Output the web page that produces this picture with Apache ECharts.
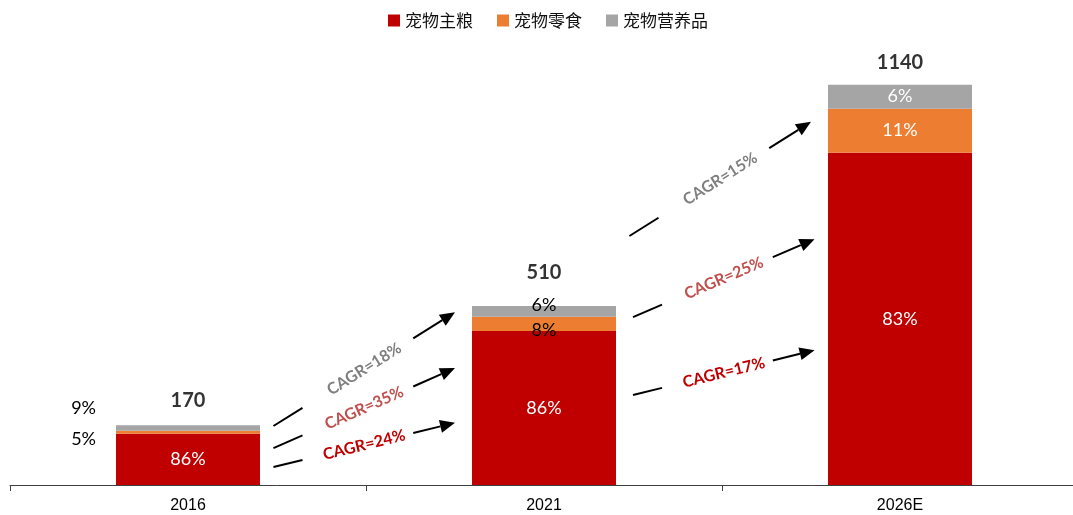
<!DOCTYPE html>
<html>
<head>
<meta charset="utf-8">
<script src="https://cdn.jsdelivr.net/npm/echarts@6/dist/echarts.min.js"></script>
<style>
  html, body { margin: 0; padding: 0; background: #fff; overflow: hidden; }
  #chart { width: 1085px; height: 515px; }
</style>
</head>
<body>
<div id="chart"></div>
<script>
// Pet food market size by segment
const categories = ['2016', '2021', '2026E'];
const totals = [170, 510, 1140];
const staplePct = [86, 86, 83];      // 宠物主粮
const snackPct = [5, 8, 11];         // 宠物零食
const supplementPct = [9, 6, 6];     // 宠物营养品

// Growth arrows between bars: [x, y] in (position, value) units
const cagrLabels = ['CAGR=18%', 'CAGR=35%', 'CAGR=24%', 'CAGR=15%', 'CAGR=25%', 'CAGR=17%'];
const cagrColors = ['#7F7F7F', '#C0504D', '#C00000', '#7F7F7F', '#C0504D', '#C00000'];
const arrowStart = [[0.74, 168], [0.74, 105], [0.74, 51], [1.74, 709], [1.75, 478], [1.75, 256]];
const arrowEnd = [[1.25, 492], [1.25, 333], [1.25, 177], [2.25, 1034], [2.26, 700], [2.26, 384]];

const segValue = (pct) => pct.map((p, i) => +(totals[i] * p / 100).toFixed(1));
const stapleVals = segValue(staplePct);
const snackVals = segValue(snackPct);
const supplementVals = segValue(supplementPct);

const pctFont = { fontFamily: 'Lato', fontSize: 18 };

function pctItems(values, pct, labelFor) {
  return values.map((v, i) => {
    const item = { value: v };
    const lab = labelFor(i);
    if (lab) item.label = Object.assign({ show: true, formatter: pct[i] + '%' }, pctFont, lab);
    return item;
  });
}

const chart = echarts.init(document.getElementById('chart'));
chart.setOption({
  animation: false,
  legend: {
    top: 7,
    left: 383,
    icon: 'rect',
    itemWidth: 12,
    itemHeight: 12,
    itemGap: 24,
    textStyle: { fontFamily: 'Noto Sans CJK SC', fontSize: 17, color: '#111' },
    data: ['宠物主粮', '宠物零食', '宠物营养品']
  },
  grid: { left: 10, top: 46, width: 1068, height: 439, containLabel: false },
  xAxis: [
    {
      type: 'category',
      data: categories,
      axisLine: { lineStyle: { color: '#404040', width: 1 } },
      axisTick: { show: true, length: 6, lineStyle: { color: '#404040' } },
      axisLabel: { fontFamily: 'Liberation Sans', fontSize: 16, color: '#000', margin: 13 }
    },
    { type: 'value', min: 0, max: 3, show: false }
  ],
  yAxis: { type: 'value', min: 0, max: 1250, show: false },
  series: [
    {
      name: '宠物主粮', type: 'bar', stack: 'total', barWidth: 144,
      itemStyle: { color: '#C00000' },
      data: pctItems(stapleVals, staplePct, () => ({ position: 'inside', color: '#fff' }))
    },
    {
      name: '宠物零食', type: 'bar', stack: 'total', barWidth: 144,
      itemStyle: { color: '#ED7D31' },
      data: pctItems(snackVals, snackPct, (i) => {
        if (i === 0) return { position: 'left', distance: 20, offset: [0, 7], color: '#000' };
        if (i === 1) return { position: 'inside', offset: [0, 6], color: '#000' };
        return { position: 'inside', color: '#fff' };
      })
    },
    {
      name: '宠物营养品', type: 'bar', stack: 'total', barWidth: 144,
      itemStyle: { color: '#A5A5A5' },
      data: pctItems(supplementVals, supplementPct, (i) => {
        if (i === 0) return { position: 'left', distance: 20, offset: [0, -20], color: '#000' };
        if (i === 1) return { position: 'inside', offset: [0, -6], color: '#000' };
        return { position: 'inside', color: '#fff' };
      })
    },
    {
      // totals above each bar
      type: 'scatter',
      symbolSize: 0,
      silent: true,
      data: totals.map((t, i) => ({
        value: [categories[i], t],
        label: {
          show: true, position: 'top', distance: i === 0 ? 15 : (i === 1 ? 23 : 12),
          formatter: String(t), fontFamily: 'Lato', fontWeight: 'bold', fontSize: 20, color: '#000'
        }
      }))
    },
    {
      // CAGR arrows
      type: 'custom',
      xAxisIndex: 1,
      yAxisIndex: 0,
      silent: true,
      encode: { x: [0, 2], y: [1, 3] },
      data: arrowStart.map((s, i) => [s[0], s[1], arrowEnd[i][0], arrowEnd[i][1]]),
      renderItem: function (params, api) {
        const i = params.dataIndex;
        const p0 = api.coord([api.value(0), api.value(1)]);
        const p1 = api.coord([api.value(2), api.value(3)]);
        const dx = p1[0] - p0[0], dy = p1[1] - p0[1];
        const len = Math.sqrt(dx * dx + dy * dy);
        const ux = dx / len, uy = dy / len;
        const nx = -uy, ny = ux;
        const at = (f) => [p0[0] + dx * f, p0[1] + dy * f];
        const headLen = 15, headW = 13;
        const base = [p1[0] - ux * headLen, p1[1] - uy * headLen];
        const dashEnd = at(0.16);
        const shaftStart = at(0.77);
        const mid = at(0.5);
        const line = (a, b) => ({
          type: 'line',
          shape: { x1: a[0], y1: a[1], x2: b[0], y2: b[1] },
          style: { stroke: '#000', lineWidth: 2 }
        });
        return {
          type: 'group',
          children: [
            line(p0, dashEnd),
            line(shaftStart, base),
            {
              type: 'polygon',
              shape: { points: [
                p1,
                [base[0] + nx * headW / 2, base[1] + ny * headW / 2],
                [base[0] - nx * headW / 2, base[1] - ny * headW / 2]
              ] },
              style: { fill: '#000' }
            },
            {
              type: 'text',
              x: mid[0], y: mid[1],
              rotation: Math.atan2(-dy, dx),
              style: {
                text: cagrLabels[i], x: 0, y: 0,
                align: 'center', verticalAlign: 'middle',
                fill: cagrColors[i],
                font: 'bold 16px Lato'
              }
            }
          ]
        };
      }
    }
  ]
});
</script>
</body>
</html>
